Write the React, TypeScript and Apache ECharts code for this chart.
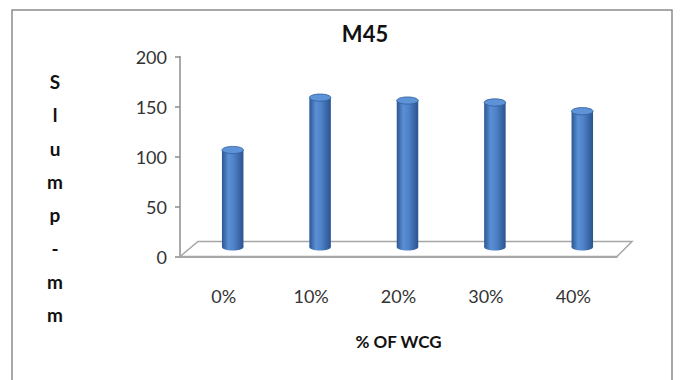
import React, { useEffect, useRef } from "react";
import * as echarts from "echarts";

const categories = ["0%", "10%", "20%", "30%", "40%"];
const slumpValues = [100, 154, 151, 149, 140];
const yTicks = { min: 0, max: 200, interval: 50 };
const titleText = "M45";
const xAxisTitle = "% OF WCG";
const yAxisTitleLetters = ["S", "l", "u", "m", "p", "-", "m", "m"];

const DX = 9;
const DY = -9.5;
const DEPTH_SCALE = 0.97;
const FONT = "Lato, 'Open Sans', sans-serif";

export default function App() {
  const ref = useRef<HTMLDivElement>(null);
  useEffect(() => {
    document.body.style.margin = "0";
    const chart = echarts.init(ref.current!, null, { renderer: "svg" });
    const bodyGrad = new echarts.graphic.LinearGradient(0, 0, 1, 0, [
      { offset: 0, color: "#2b5691" },
      { offset: 0.3, color: "#5a8fd6" },
      { offset: 0.55, color: "#4f82c8" },
      { offset: 1, color: "#2a5390" },
    ]);
    chart.setOption({
      animation: false,
      backgroundColor: "#ffffff",
      title: {
        text: titleText,
        left: 360,
        top: 17,
        textAlign: "center",
        textStyle: { fontFamily: FONT, fontWeight: "bold", fontSize: 22, color: "#111" },
      },
      graphic: [
        {
          type: "rect",
          shape: { x: 12, y: 10, width: 660, height: 380 },
          style: { fill: "none", stroke: "#8c8c8c", lineWidth: 1.5 },
          silent: true,
        },
        {
          type: "text",
          x: 55,
          y: 65,
          style: {
            text: yAxisTitleLetters.join("\n"),
            fontFamily: FONT,
            fontWeight: "bold",
            fontSize: 19,
            lineHeight: 33.3,
            fill: "#111",
            align: "center",
          },
        },
      ],
      grid: { left: 180, right: 65, top: 56.5, bottom: 123.5 },
      xAxis: {
        type: "category",
        data: categories,
        name: xAxisTitle,
        nameLocation: "middle",
        nameGap: 76,
        nameTextStyle: { fontFamily: FONT, fontWeight: "bold", fontSize: 17, color: "#111" },
        axisLine: { lineStyle: { color: "#8c8c8c", width: 1.5 } },
        axisTick: { length: 6, lineStyle: { color: "#8c8c8c", width: 1.5 } },
        axisLabel: { margin: 30, fontFamily: FONT, fontSize: 18, color: "#333" },
      },
      yAxis: {
        type: "value",
        min: yTicks.min,
        max: yTicks.max,
        interval: yTicks.interval,
        axisLine: { show: true, lineStyle: { color: "#8c8c8c", width: 1.5 } },
        axisTick: { show: true, length: 5, lineStyle: { color: "#8c8c8c", width: 1.5 } },
        splitLine: { show: false },
        axisLabel: { margin: 13, fontFamily: FONT, fontSize: 18, color: "#333" },
      },
      series: [
        {
          type: "custom",
          z: 1,
          silent: true,
          data: [[0]],
          renderItem: (params: any) => {
            const cs = params.coordSys;
            const x = cs.x, y = cs.y + cs.height, w = cs.width;
            return {
              type: "polygon",
              shape: {
                points: [
                  [x, y],
                  [x + 18, y - 15],
                  [x + w + 15, y - 15],
                  [x + w, y],
                ],
              },
              style: { fill: "#ffffff", stroke: "#a6a6a6", lineWidth: 1.5 },
            };
          },
        },
        {
          type: "custom",
          z: 3,
          data: slumpValues.map((v, i) => [i, v]),
          encode: { x: 0, y: 1 },
          renderItem: (params: any, api: any) => {
            const i = api.value(0);
            const v = api.value(1);
            const p0 = api.coord([i, 0]);
            const p1 = api.coord([i, v]);
            const cx = p0[0] + DX;
            const by = p0[1] + DY;
            const ty = by - (p0[1] - p1[1]) * DEPTH_SCALE;
            const rx = 10.75;
            const ry = 3.6;
            return {
              type: "group",
              children: [
                {
                  type: "ellipse",
                  shape: { cx, cy: by, rx, ry },
                  style: { fill: bodyGrad },
                },
                {
                  type: "rect",
                  shape: { x: cx - rx, y: ty, width: rx * 2, height: by - ty },
                  style: { fill: bodyGrad },
                },
                {
                  type: "ellipse",
                  shape: { cx, cy: ty, rx, ry },
                  style: { fill: "#5f93d8", stroke: "#2f5e9c", lineWidth: 0.8 },
                },
              ],
            };
          },
        },
      ],
    });
    return () => chart.dispose();
  }, []);
  return <div ref={ref} style={{ width: 682, height: 380 }} />;
}
